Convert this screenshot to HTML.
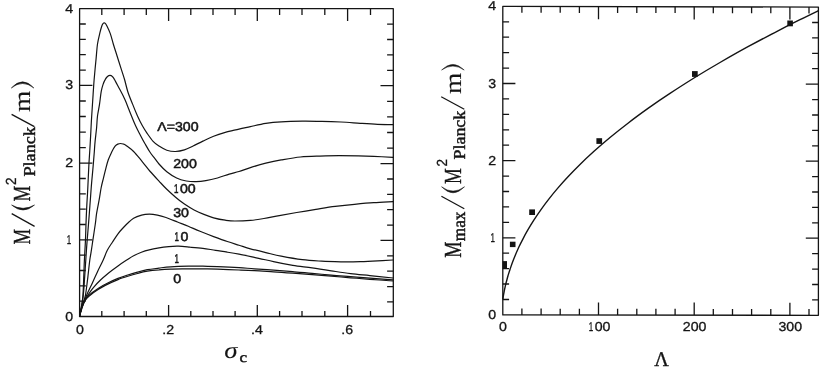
<!DOCTYPE html>
<html><head><meta charset="utf-8"><title>Boson star mass curves</title>
<style>
html,body{margin:0;padding:0;background:#fff;}
body{width:830px;height:369px;overflow:hidden;font-family:"Liberation Sans",sans-serif;}
svg{display:block;will-change:transform;}
text{text-rendering:geometricPrecision;}
.ln{fill:none;stroke:#141414;stroke-width:1.3;stroke-linecap:butt;stroke-linejoin:round;}
.cv{fill:none;stroke:#141414;stroke-width:1.2;stroke-linecap:round;stroke-linejoin:round;}
.tk{font-family:"Liberation Sans",sans-serif;font-size:12px;fill:#141414;stroke:#141414;stroke-width:0.3;}
.cl{stroke-width:0.5;}
.sf{font-family:"Liberation Serif",serif;fill:#141414;}
.pl{stroke:#141414;stroke-width:0.45;}
.mm{stroke:#141414;stroke-width:0.35;stroke-linejoin:round;}
.m2{stroke:#141414;stroke-width:0.1;}
</style></head><body>
<svg width="830" height="369" viewBox="0 0 830 369">
<rect x="0" y="0" width="830" height="369" fill="#ffffff"/>
<g id="left-plot">
<path class="ln" d="M79.6 8.7H393.3V316.5H79.6Z"/>
<path class="ln" d="M101.8 316.5v-5.6M101.8 8.7v6.3M124.1 316.5v-5.6M124.1 8.7v6.3M146.3 316.5v-5.6M146.3 8.7v6.3M168.6 316.5v-11.6M168.6 8.7v12.3M190.8 316.5v-5.6M190.8 8.7v6.3M213.0 316.5v-5.6M213.0 8.7v6.3M235.1 316.5v-5.6M235.1 8.7v6.3M257.3 316.5v-11.6M257.3 8.7v12.3M279.6 316.5v-5.6M279.6 8.7v6.3M302.0 316.5v-5.6M302.0 8.7v6.3M324.8 316.5v-5.6M324.8 8.7v6.3M347.6 316.5v-11.6M347.6 8.7v12.3M370.5 316.5v-5.6M370.5 8.7v6.3M79.6 301.2h6.2M393.3 301.9h-6.2M79.6 285.8h6.2M393.3 286.6h-6.2M79.6 270.5h6.2M393.3 271.2h-6.2M79.6 255.1h6.2M393.3 255.8h-6.2M79.6 239.8h12.8M393.3 240.4h-12.8M79.6 224.5h6.2M393.3 225.1h-6.2M79.6 209.2h6.2M393.3 209.7h-6.2M79.6 193.8h6.2M393.3 194.4h-6.2M79.6 178.5h6.2M393.3 179.0h-6.2M79.6 163.2h12.8M393.3 163.6h-12.8M79.6 147.6h6.2M393.3 148.1h-6.2M79.6 132.1h6.2M393.3 132.5h-6.2M79.6 116.5h6.2M393.3 116.9h-6.2M79.6 101.0h6.2M393.3 101.3h-6.2M79.6 85.4h12.8M393.3 85.7h-12.8M79.6 70.1h6.2M393.3 70.3h-6.2M79.6 54.7h6.2M393.3 54.9h-6.2M79.6 39.4h6.2M393.3 39.5h-6.2M79.6 24.0h6.2M393.3 24.2h-6.2"/>
<path class="cv" d="M79.5 316.3C79.8 314.9 80.6 311.4 81.2 308.0C81.8 304.6 82.5 301.0 82.9 296.0C83.3 291.0 83.5 284.0 83.7 278.0C84.0 272.0 84.1 265.8 84.4 260.0C84.7 254.2 85.0 249.5 85.3 243.5C85.6 237.5 85.8 230.3 86.0 224.0C86.2 217.7 86.5 211.6 86.8 205.6C87.1 199.6 87.5 194.5 87.8 188.0C88.1 181.5 88.5 172.6 88.8 166.6C89.1 160.6 89.3 158.0 89.7 152.0C90.1 146.0 90.6 136.6 90.9 130.6C91.2 124.6 91.3 122.0 91.7 116.0C92.1 110.0 92.7 100.6 93.1 94.6C93.5 88.6 93.6 86.0 94.1 80.0C94.6 74.0 95.5 64.6 96.1 58.6C96.7 52.6 96.8 48.4 97.5 44.0C98.2 39.6 99.3 35.4 100.0 32.4C100.7 29.4 101.4 27.3 101.9 25.8C102.4 24.3 102.7 24.0 103.1 23.5C103.5 23.0 103.8 22.8 104.2 22.8C104.6 22.8 105.0 23.0 105.4 23.5C105.8 24.0 106.0 24.2 106.8 25.8C107.6 27.4 109.1 30.4 110.2 33.4C111.3 36.4 112.2 40.3 113.3 44.0C114.4 47.7 115.7 51.6 117.0 55.7C118.3 59.8 119.7 64.4 121.0 68.4C122.3 72.5 123.6 76.1 124.7 80.0C125.8 83.9 126.5 87.6 127.8 91.7C129.1 95.8 131.1 100.4 132.7 104.4C134.3 108.5 135.9 112.4 137.5 116.0C139.1 119.6 140.8 122.9 142.4 125.8C144.0 128.7 145.5 131.0 147.3 133.6C149.1 136.2 151.2 139.3 153.1 141.4C155.0 143.5 156.7 144.6 159.0 146.1C161.3 147.6 164.0 149.3 166.8 150.2C169.6 151.1 172.7 151.6 175.6 151.5C178.5 151.4 181.5 150.8 184.4 149.9C187.3 149.0 190.0 147.5 193.1 146.0C196.2 144.5 199.5 142.7 202.9 141.1C206.3 139.5 209.9 137.7 213.6 136.2C217.3 134.7 221.1 133.5 225.3 132.3C229.5 131.1 234.8 130.1 239.0 129.1C243.2 128.1 245.9 127.6 250.4 126.6C254.9 125.6 260.7 124.1 265.8 123.3C270.9 122.5 275.1 122.1 281.2 121.8C287.3 121.5 295.6 121.3 302.4 121.2C309.1 121.1 315.3 121.3 321.7 121.4C328.1 121.5 334.6 121.7 341.0 122.0C347.4 122.3 354.1 122.9 360.2 123.3C366.3 123.7 372.1 124.1 377.6 124.3C383.1 124.5 390.4 124.6 393.0 124.7"/>
<path class="cv" d="M79.5 316.3C79.8 314.9 80.7 311.4 81.3 308.0C81.9 304.6 82.7 301.0 83.2 296.0C83.8 291.0 84.2 284.0 84.6 278.0C85.0 272.0 85.3 266.6 85.8 260.0C86.2 253.4 86.8 244.6 87.3 238.6C87.8 232.6 88.1 229.5 88.5 224.0C88.9 218.5 89.5 211.6 89.9 205.6C90.4 199.6 90.7 194.5 91.2 188.0C91.7 181.5 92.6 172.6 93.1 166.6C93.6 160.6 94.0 156.2 94.3 152.0C94.6 147.8 94.7 145.5 95.1 141.4C95.5 137.3 96.2 131.9 96.6 127.7C97.0 123.5 97.0 119.9 97.5 116.0C98.0 112.1 98.9 108.5 99.5 104.4C100.1 100.4 100.6 95.0 101.2 91.7C101.8 88.4 102.3 86.6 103.0 84.6C103.7 82.5 104.5 80.8 105.3 79.4C106.0 78.1 106.7 77.2 107.5 76.5C108.3 75.8 109.2 75.4 110.0 75.4C110.8 75.4 111.8 76.0 112.5 76.7C113.2 77.4 113.2 77.2 114.4 79.4C115.7 81.6 118.2 86.5 120.0 89.8C121.8 93.1 123.4 96.2 124.9 99.5C126.4 102.8 127.7 106.5 128.8 109.3C129.9 112.0 130.4 113.2 131.5 116.0C132.6 118.8 134.1 122.5 135.6 125.8C137.1 129.1 138.9 132.4 140.5 135.5C142.1 138.6 143.7 141.6 145.3 144.3C146.9 147.1 148.3 149.6 149.9 152.0C151.5 154.4 153.6 156.8 155.1 158.8C156.6 160.8 157.1 161.8 159.0 164.0C160.9 166.2 163.9 169.4 166.8 171.7C169.7 174.0 173.3 176.4 176.6 178.0C179.8 179.6 183.1 180.4 186.3 181.0C189.6 181.6 192.8 181.8 196.1 181.7C199.3 181.6 202.2 181.3 205.8 180.7C209.4 180.1 213.6 179.1 217.5 178.0C221.4 176.9 225.6 175.2 229.2 174.1C232.8 173.0 235.5 172.6 239.0 171.5C242.5 170.4 245.9 169.0 250.4 167.6C254.9 166.2 260.7 164.5 265.8 163.2C270.9 161.9 275.4 160.9 281.2 159.9C287.0 158.9 294.1 157.6 300.5 157.0C306.9 156.4 313.4 156.3 319.8 156.1C326.2 155.9 332.6 155.7 339.0 155.7C345.4 155.7 352.5 155.8 358.3 155.9C364.1 156.0 367.9 156.1 373.7 156.3C379.5 156.6 389.8 157.2 393.0 157.4"/>
<path class="cv" d="M79.5 316.3C79.8 314.9 80.5 311.4 81.5 308.0C82.5 304.6 84.2 301.1 85.3 296.0C86.3 290.9 87.0 283.6 87.8 277.6C88.5 271.6 89.2 264.4 89.8 260.0C90.4 255.6 90.7 254.9 91.2 251.3C91.8 247.7 92.4 243.2 93.1 238.6C93.8 234.0 94.7 228.2 95.3 224.0C95.9 219.8 96.0 217.3 96.6 213.4C97.2 209.5 98.2 204.9 99.0 200.7C99.8 196.5 100.4 191.7 101.1 188.0C101.8 184.3 102.6 181.5 103.4 178.3C104.2 175.1 105.0 171.7 105.8 168.6C106.6 165.5 107.3 162.6 108.3 159.8C109.3 157.0 110.6 154.3 111.7 152.0C112.8 149.7 114.1 147.5 115.1 146.2C116.1 144.9 116.9 144.5 117.8 144.1C118.7 143.7 119.6 143.5 120.5 143.5C121.4 143.5 122.3 143.7 123.2 144.0C124.1 144.3 124.1 144.1 125.8 145.3C127.5 146.6 130.8 148.8 133.6 151.5C136.4 154.2 139.6 158.5 142.4 161.8C145.2 165.1 147.4 168.3 150.2 171.5C153.0 174.7 156.2 178.1 159.0 181.1C161.8 184.1 164.0 186.6 166.8 189.3C169.6 192.0 172.7 194.8 175.6 197.3C178.5 199.8 181.3 202.0 184.4 204.1C187.5 206.2 190.8 208.3 194.1 210.0C197.3 211.7 200.7 213.1 203.9 214.4C207.2 215.7 210.0 216.8 213.6 217.8C217.2 218.8 221.7 219.7 225.3 220.2C228.9 220.7 230.8 221.0 235.0 221.0C239.2 221.0 245.6 220.8 250.4 220.4C255.2 220.0 259.1 219.3 263.9 218.5C268.7 217.7 273.8 216.6 279.3 215.6C284.8 214.6 290.6 213.6 296.7 212.5C302.8 211.4 309.5 210.3 315.9 209.3C322.3 208.3 328.8 207.2 335.2 206.4C341.6 205.6 348.1 204.9 354.5 204.3C360.9 203.7 367.3 203.1 373.7 202.7C380.1 202.2 389.8 201.8 393.0 201.6"/>
<path class="cv" d="M79.5 316.3C79.9 314.9 80.9 311.4 82.0 308.0C83.1 304.6 84.7 299.9 86.3 296.0C87.9 292.1 89.8 288.4 91.7 284.4C93.6 280.3 95.6 275.8 97.5 271.7C99.4 267.6 101.6 263.6 103.2 260.0C104.8 256.4 105.8 253.2 107.3 250.3C108.8 247.4 110.4 245.2 112.2 242.5C114.0 239.8 116.3 236.1 118.0 233.8C119.7 231.5 121.0 230.1 122.5 228.5C124.0 226.9 125.0 225.7 126.8 224.0C128.7 222.3 131.1 219.7 133.6 218.2C136.1 216.7 139.0 215.8 141.6 215.1C144.2 214.4 146.8 214.2 149.4 214.2C152.0 214.2 154.8 214.6 157.4 215.1C160.0 215.6 161.8 216.0 165.2 217.2C168.5 218.3 173.7 220.5 177.5 222.0C181.3 223.5 184.6 224.6 188.3 226.2C192.1 227.8 195.8 229.6 200.0 231.3C204.2 233.0 209.0 234.9 213.6 236.6C218.2 238.3 223.1 240.1 227.3 241.5C231.5 242.9 235.2 244.0 239.0 245.2C242.8 246.4 245.9 247.6 250.4 248.8C254.9 250.0 260.7 251.4 265.8 252.6C270.9 253.8 275.1 255.0 281.2 256.2C287.3 257.4 295.6 258.9 302.4 259.7C309.1 260.5 315.3 260.8 321.7 261.2C328.1 261.6 334.6 261.7 341.0 261.8C347.4 261.9 354.1 261.8 360.2 261.6C366.3 261.4 372.1 261.1 377.6 260.8C383.1 260.5 390.4 260.1 393.0 260.0"/>
<path class="cv" d="M79.5 316.3C79.9 314.8 80.9 310.0 81.8 307.4C82.7 304.8 83.9 302.5 84.8 300.6C85.7 298.7 85.8 298.2 87.3 296.0C88.8 293.8 91.4 290.0 93.6 287.3C95.8 284.6 98.0 282.4 100.5 280.0C103.0 277.6 105.4 275.6 108.3 273.2C111.2 270.8 114.9 268.1 118.0 265.9C121.1 263.7 124.5 261.5 127.1 259.8C129.7 258.1 131.2 256.9 133.6 255.7C136.0 254.4 138.8 253.3 141.4 252.3C144.0 251.3 146.3 250.6 149.2 249.9C152.1 249.2 155.7 248.5 159.0 247.9C162.3 247.3 165.6 246.9 168.8 246.6C172.1 246.3 174.9 246.1 178.5 246.2C182.1 246.3 186.1 246.8 190.2 247.2C194.3 247.5 198.7 247.8 202.9 248.3C207.1 248.8 211.5 249.7 215.6 250.3C219.7 251.0 223.4 251.5 227.3 252.2C231.2 252.8 234.5 253.3 239.0 254.2C243.5 255.0 248.6 256.1 254.3 257.3C260.1 258.5 267.1 260.2 273.5 261.6C279.9 263.0 286.4 264.3 292.8 265.4C299.2 266.4 305.7 267.0 312.1 267.9C318.5 268.8 324.9 269.8 331.3 270.8C337.7 271.8 344.2 272.9 350.6 273.7C357.0 274.5 362.8 274.9 369.9 275.6C377.0 276.3 389.1 277.6 393.0 278.0"/>
<path class="cv" d="M79.5 316.3C79.9 314.8 80.9 310.0 81.8 307.4C82.7 304.8 83.7 302.6 84.8 300.6C85.9 298.6 86.3 297.7 88.6 295.6C90.9 293.5 95.2 290.3 98.5 288.2C101.8 286.1 105.0 284.4 108.3 282.8C111.5 281.2 114.8 279.7 118.0 278.4C121.2 277.1 124.5 276.1 127.8 275.0C131.1 273.9 134.2 273.0 137.5 272.1C140.8 271.2 143.7 270.4 147.3 269.7C150.9 269.0 155.1 268.6 159.0 268.1C162.9 267.6 165.8 267.1 170.7 266.8C175.6 266.5 182.9 266.3 188.3 266.2C193.7 266.1 198.0 266.1 202.9 266.2C207.8 266.3 211.5 266.4 217.5 266.6C223.5 266.8 232.9 267.2 239.0 267.6C245.1 268.0 248.6 268.4 254.3 268.8C260.1 269.2 267.1 269.7 273.5 270.2C279.9 270.7 286.4 271.2 292.8 271.7C299.2 272.2 305.7 272.7 312.1 273.3C318.5 273.9 324.9 274.6 331.3 275.2C337.7 275.8 344.2 276.2 350.6 276.7C357.0 277.2 362.8 277.6 369.9 278.1C377.0 278.6 389.1 279.6 393.0 279.9"/>
<path class="cv" d="M79.5 316.3C79.9 314.9 80.9 310.2 81.8 307.6C82.7 305.0 83.6 302.8 84.8 300.9C86.0 299.0 86.6 298.1 88.9 296.2C91.2 294.2 95.3 291.2 98.5 289.2C101.7 287.1 105.0 285.5 108.3 283.9C111.5 282.3 114.8 280.9 118.0 279.6C121.2 278.3 124.5 277.3 127.8 276.3C131.1 275.3 134.2 274.4 137.5 273.5C140.8 272.6 143.7 271.8 147.3 271.2C150.9 270.6 155.1 270.2 159.0 269.9C162.9 269.5 165.8 269.3 170.7 269.1C175.6 268.9 182.9 268.9 188.3 268.8C193.7 268.8 198.0 268.8 202.9 268.8C207.8 268.9 211.5 268.9 217.5 269.1C223.5 269.3 232.9 269.8 239.0 270.0C245.1 270.2 248.6 270.3 254.3 270.6C260.1 270.9 267.1 271.4 273.5 271.8C279.9 272.2 286.4 272.7 292.8 273.2C299.2 273.7 305.7 274.1 312.1 274.6C318.5 275.1 324.9 275.7 331.3 276.2C337.7 276.7 344.2 277.3 350.6 277.8C357.0 278.3 362.8 278.8 369.9 279.3C377.0 279.8 389.1 280.7 393.0 281.0"/>
<text class="tk" style="font-size:12.9px" transform="translate(73.2 320.5) scale(1.100 1)" text-anchor="end">0</text>
<text class="tk" style="font-size:12.9px" transform="translate(66.8 244.2) scale(0.62 1)" text-anchor="start">1</text>
<text class="tk" style="font-size:12.9px" transform="translate(73.2 167.2) scale(1.100 1)" text-anchor="end">2</text>
<text class="tk" style="font-size:12.9px" transform="translate(73.2 89.4) scale(1.100 1)" text-anchor="end">3</text>
<text class="tk" style="font-size:12.9px" transform="translate(73.2 12.7) scale(1.100 1)" text-anchor="end">4</text>
<text class="tk" style="font-size:12.9px" transform="translate(79.9 333.7) scale(1.100 1)" text-anchor="middle">0</text>
<text class="tk" style="font-size:12.9px" transform="translate(168.2 333.7) scale(1.100 1)" text-anchor="middle">.2</text>
<text class="tk" style="font-size:12.9px" transform="translate(256.9 333.7) scale(1.100 1)" text-anchor="middle">.4</text>
<text class="tk" style="font-size:12.9px" transform="translate(347.2 333.7) scale(1.100 1)" text-anchor="middle">.6</text>
<text class="tk cl" style="font-size:12.9px" transform="translate(157.2 130.7) scale(1.100 1)" text-anchor="start">&#923;=300</text>
<text class="tk cl" style="font-size:12.9px" transform="translate(173.2 167.6) scale(1.100 1)" text-anchor="start">200</text>
<text class="tk cl" style="font-size:12.9px" transform="translate(174.0 193.3) scale(0.62 1)" text-anchor="start">1</text>
<text class="tk cl" style="font-size:12.9px" transform="translate(179.9 193.3) scale(1.100 1)" text-anchor="start">00</text>
<text class="tk cl" style="font-size:12.9px" transform="translate(173.2 216.7) scale(1.100 1)" text-anchor="start">30</text>
<text class="tk cl" style="font-size:12.9px" transform="translate(174.5 241.4) scale(0.62 1)" text-anchor="start">1</text>
<text class="tk cl" style="font-size:12.9px" transform="translate(180.4 241.4) scale(1.100 1)" text-anchor="start">0</text>
<text class="tk cl" style="font-size:12.9px" transform="translate(174.5 262.8) scale(0.62 1)" text-anchor="start">1</text>
<text class="tk cl" style="font-size:12.9px" transform="translate(173.2 283.2) scale(1.100 1)" text-anchor="start">0</text>
<g transform="translate(30.4 244.6) rotate(-90)">
<text class="sf mm" font-size="24.5" x="0" y="0" textLength="15.6" lengthAdjust="spacingAndGlyphs">M</text>
<text class="sf mm" font-size="24.5" x="43.0" y="0" textLength="15.8" lengthAdjust="spacingAndGlyphs">M</text>
<text class="sf pl" font-size="16.6" x="68.0" y="4.9" textLength="49.6" lengthAdjust="spacingAndGlyphs">Planck</text>
<text class="sf m2" font-size="24" x="132.6" y="0" textLength="21.2" lengthAdjust="spacingAndGlyphs">m</text>
</g>
<text class="tk" style="font-size:14.6px" transform="translate(16.3 185.0) rotate(-90) scale(0.920 1)" text-anchor="start">2</text>
<path class="ln" style="stroke-width:1.25" d="M34.6 226.4L11.7 213.6"/>
<path class="ln" style="stroke-width:1.25" d="M34.4 126.6L11.6 114.4"/>
<path d="M11.6 205.0Q23.1 215.0 34.5 205.0Q23.1 211.6 11.6 205.0Z" fill="#141414" stroke="#141414" stroke-width="0.55" stroke-linejoin="round"/>
<path d="M11.3 88.0Q22.6 75.6 33.9 88.0Q22.6 79.0 11.3 88.0Z" fill="#141414" stroke="#141414" stroke-width="0.55" stroke-linejoin="round"/>
<clipPath id="sc"><rect x="220" y="347.3" width="30" height="20"/></clipPath>
<text clip-path="url(#sc)" class="sf m2" font-size="24" font-style="italic" x="224.3" y="358.0" textLength="13.4" lengthAdjust="spacingAndGlyphs">&#963;</text>
<text class="sf pl" font-size="14.4" x="239.4" y="362.2" textLength="7.6" lengthAdjust="spacingAndGlyphs">c</text>
</g>
<g id="right-plot">
<path class="ln" d="M502.8 6.4L818.4 7.1L818.4 315.3L502.8 314.9Z"/>
<path class="ln" d="M521.9 314.9v-6.3M521.9 6.4v6.3M541.1 314.9v-6.3M541.1 6.5v6.3M560.2 315.0v-6.3M560.2 6.5v6.3M579.4 315.0v-6.3M579.4 6.6v6.3M598.5 315.0v-12.6M598.5 6.6v12.6M617.6 315.0v-6.3M617.6 6.7v6.3M636.8 315.1v-6.3M636.8 6.7v6.3M655.9 315.1v-6.3M655.9 6.7v6.3M675.1 315.1v-6.3M675.1 6.8v6.3M694.2 315.1v-12.6M694.2 6.8v12.6M713.3 315.2v-6.3M713.3 6.9v6.3M732.5 315.2v-6.3M732.5 6.9v6.3M751.6 315.2v-6.3M751.6 7.0v6.3M770.8 315.2v-6.3M770.8 7.0v6.3M789.9 315.3v-12.6M789.9 7.0v12.6M809.0 315.3v-6.3M809.0 7.1v6.3M502.8 299.5h6.3M818.4 299.9h-6.3M502.8 284.0h6.3M818.4 284.5h-6.3M502.8 268.6h6.3M818.4 269.1h-6.3M502.8 253.2h6.3M818.4 253.7h-6.3M502.8 237.8h12.6M818.4 238.2h-12.6M502.8 222.3h6.3M818.4 222.8h-6.3M502.8 206.9h6.3M818.4 207.4h-6.3M502.8 191.5h6.3M818.4 192.0h-6.3M502.8 176.1h6.3M818.4 176.6h-6.3M502.8 160.6h12.6M818.4 161.2h-12.6M502.8 145.2h6.3M818.4 145.8h-6.3M502.8 129.8h6.3M818.4 130.4h-6.3M502.8 114.4h6.3M818.4 115.0h-6.3M502.8 98.9h6.3M818.4 99.6h-6.3M502.8 83.5h12.6M818.4 84.2h-12.6M502.8 68.1h6.3M818.4 68.7h-6.3M502.8 52.7h6.3M818.4 53.3h-6.3M502.8 37.2h6.3M818.4 37.9h-6.3M502.8 21.8h6.3M818.4 22.5h-6.3"/>
<path class="cv" style="stroke-width:1.4" d="M502.9 298.6C503.0 298.1 503.2 296.8 503.4 295.6C503.6 294.4 503.9 292.8 504.2 291.3C504.5 289.8 504.8 288.3 505.2 286.6C505.6 284.9 506.0 283.1 506.5 281.3C507.0 279.5 507.4 277.8 508.0 275.8C508.6 273.8 509.2 271.6 510.0 269.4C510.8 267.1 511.6 264.7 512.5 262.3C513.4 259.8 514.4 257.3 515.5 254.7C516.6 252.1 517.8 249.5 519.0 246.8C520.2 244.2 521.5 241.6 523.0 238.8C524.5 235.9 526.2 232.8 528.0 229.7C529.8 226.6 531.8 223.3 534.0 219.9C536.2 216.5 538.5 213.1 541.0 209.6C543.5 206.1 546.2 202.5 549.0 198.9C551.8 195.3 554.8 191.6 558.0 187.9C561.2 184.2 564.3 180.7 568.0 176.8C571.7 172.8 575.7 168.7 580.0 164.5C584.3 160.2 589.0 155.8 594.0 151.3C599.0 146.8 604.3 142.2 610.0 137.5C615.7 132.8 621.7 128.0 628.0 123.2C634.3 118.3 641.0 113.4 648.0 108.4C655.0 103.4 662.3 98.4 670.0 93.4C677.7 88.3 685.7 83.2 694.0 78.0C702.3 72.9 711.0 67.7 720.0 62.5C729.0 57.3 738.3 52.0 748.0 46.7C757.7 41.5 769.3 35.3 778.0 30.8C786.7 26.3 793.3 23.0 800.0 19.7C806.7 16.3 815.2 12.2 818.3 10.7"/>
<rect x="787.3" y="20.5" width="5.6" height="5.8" fill="#141414"/>
<rect x="692.0" y="71.1" width="5.7" height="5.8" fill="#141414"/>
<rect x="596.4" y="138.2" width="5.7" height="5.7" fill="#141414"/>
<rect x="529.2" y="209.4" width="5.8" height="5.6" fill="#141414"/>
<rect x="509.9" y="241.7" width="5.6" height="5.4" fill="#141414"/>
<rect x="502.6" y="261.1" width="4.4" height="7.8" fill="#141414"/>
<text class="tk" style="font-size:12.9px" transform="translate(496.2 318.9) scale(1.100 1)" text-anchor="end">0</text>
<text class="tk" style="font-size:12.9px" transform="translate(490.6 241.5) scale(0.62 1)" text-anchor="start">1</text>
<text class="tk" style="font-size:12.9px" transform="translate(496.2 164.6) scale(1.100 1)" text-anchor="end">2</text>
<text class="tk" style="font-size:12.9px" transform="translate(496.2 87.5) scale(1.100 1)" text-anchor="end">3</text>
<text class="tk" style="font-size:12.9px" transform="translate(496.2 10.4) scale(1.100 1)" text-anchor="end">4</text>
<text class="tk" style="font-size:12.9px" transform="translate(503.0 331.2) scale(1.100 1)" text-anchor="middle">0</text>
<text class="tk" style="font-size:12.9px" transform="translate(588.8 331.2) scale(0.62 1)" text-anchor="start">1</text>
<text class="tk" style="font-size:12.9px" transform="translate(594.7 331.2) scale(1.100 1)" text-anchor="start">00</text>
<text class="tk" style="font-size:12.9px" transform="translate(694.6 331.2) scale(1.100 1)" text-anchor="middle">200</text>
<text class="tk" style="font-size:12.9px" transform="translate(790.3 331.2) scale(1.100 1)" text-anchor="middle">300</text>
<g transform="translate(460.6 257) rotate(-90)">
<text class="sf mm" font-size="24.5" x="-0.8" y="0" textLength="16.2" lengthAdjust="spacingAndGlyphs">M</text>
<text class="sf pl" font-size="18" x="15.8" y="4.6" textLength="29.6" lengthAdjust="spacingAndGlyphs">max</text>
<text class="sf mm" font-size="24.5" x="73.0" y="0" textLength="15.8" lengthAdjust="spacingAndGlyphs">M</text>
<text class="sf pl" font-size="16.6" x="97.6" y="4.6" textLength="48.6" lengthAdjust="spacingAndGlyphs">Planck</text>
<text class="sf m2" font-size="24" x="163.0" y="0" textLength="21.2" lengthAdjust="spacingAndGlyphs">m</text>
</g>
<text class="tk" style="font-size:14.6px" transform="translate(446.7 166.6) rotate(-90) scale(0.920 1)" text-anchor="start">2</text>
<path class="ln" style="stroke-width:1.25" d="M464.3 208.8L441.4 196.2"/>
<path class="ln" style="stroke-width:1.25" d="M464.3 109.3L441.2 96.7"/>
<path d="M441.6 186.8Q453.1 198.8 464.5 186.8Q453.1 195.4 441.6 186.8Z" fill="#141414" stroke="#141414" stroke-width="0.55" stroke-linejoin="round"/>
<path d="M441.6 70.0Q452.9 58.8 464.2 70.0Q452.9 62.2 441.6 70.0Z" fill="#141414" stroke="#141414" stroke-width="0.55" stroke-linejoin="round"/>
<text class="sf mm" font-size="20.8" x="654.2" y="365.5" textLength="14.6" lengthAdjust="spacingAndGlyphs">&#923;</text>
</g>
</svg>
</body></html>
